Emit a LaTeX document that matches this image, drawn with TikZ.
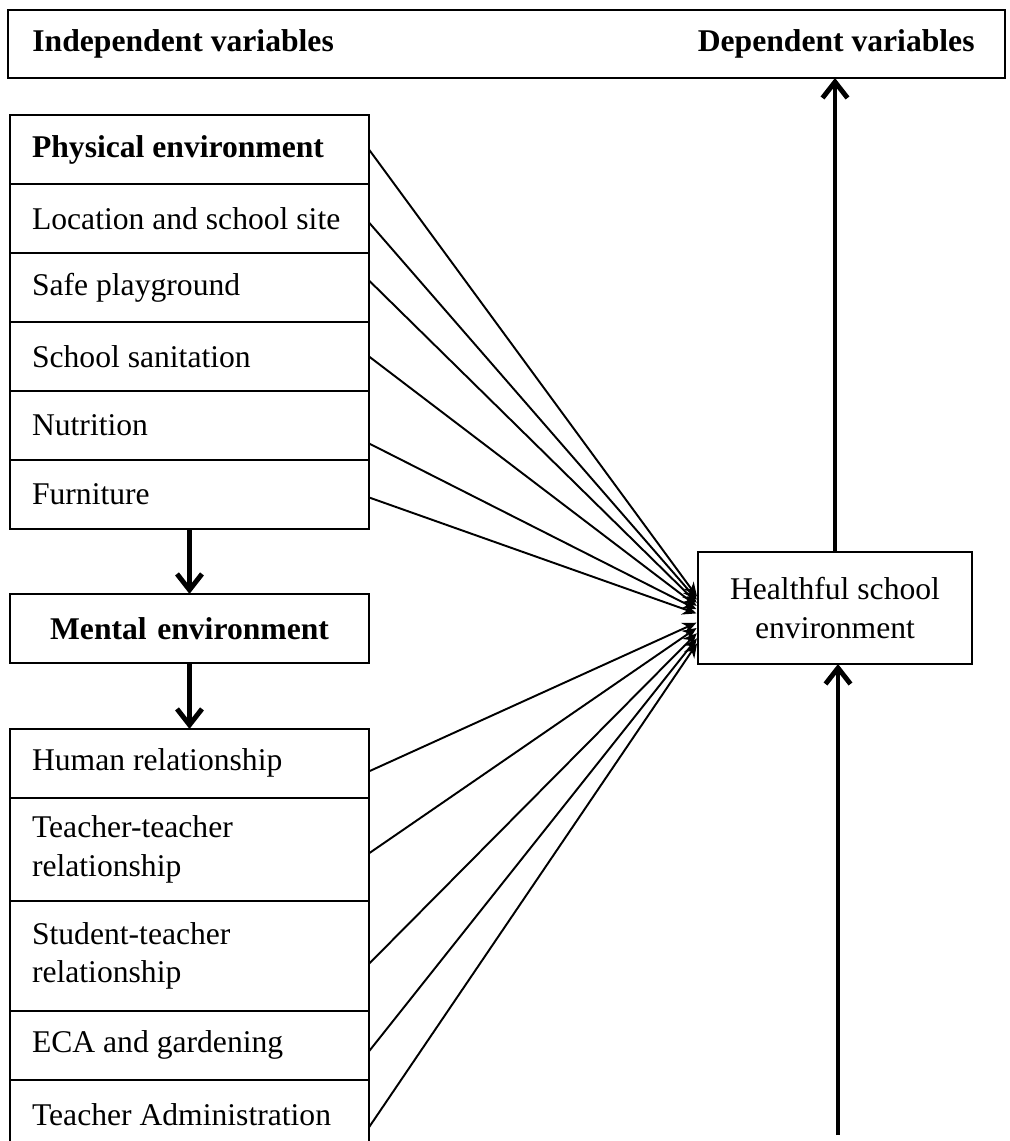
\documentclass[tikz,border=0pt]{standalone}
\usepackage{fontspec}
\setmainfont{Liberation Serif}
\usetikzlibrary{positioning,arrows.meta}

\begin{document}
\begin{tikzpicture}[x=0.02cm,y=-0.02cm,
    every node/.style={font=\fontsize{18}{22}\selectfont},
    box/.style={draw,line width=1.4pt,outer sep=0pt},
    item node/.style={box,anchor=north,minimum width=7.18cm,minimum height=1.38cm,
        text width=6.3cm,inner xsep=0.44cm,align=flush left},
    head node/.style={item node,font=\fontsize{18}{22}\selectfont\bfseries},
    title/.style={font=\fontsize{18}{22}\selectfont\bfseries,inner sep=0pt},
    link/.style={-{Stealth[length=8pt,width=7pt]},line width=1.1pt,shorten >=1pt},
    flow/.style={-{Straight Barb[length=0.32cm,width=0.5cm]},line width=2.8pt}]
\useasboundingbox (0,0) rectangle (1009,1141);

\node[box,minimum width=19.94cm,minimum height=1.36cm] (header) at (506.5,44) {};
\node[title,anchor=west] (indep) at ([xshift=0.48cm]header.west) {Independent variables};
\node[title,anchor=east] (dep) at ([xshift=-0.6cm]header.east) {Dependent variables};

\node[head node] (phys) at (189.5,115) {Physical environment};
\node[item node] (site) [below=0pt of phys] {Location and school site};
\node[item node] (play) [below=0pt of site] {Safe playground};
\node[item node] (sanit) [below=0pt of play] {School sanitation};
\node[item node] (food) [below=0pt of sanit] {Nutrition};
\node[item node] (furn) [below=0pt of food] {Furniture};
\node[head node,align=center] (mental) [below=1.3cm of furn] {Mental environment};
\node[item node] (human) [below=1.32cm of mental] {Human relationship};
\node[item node,minimum height=2.06cm] (tt) [below=0pt of human] {Teacher-teacher\\relationship};
\node[item node,minimum height=2.2cm] (st) [below=0pt of tt] {Student-teacher\\relationship};
\node[item node] (eca) [below=0pt of st] {ECA and gardening};
\node[item node] (admin) [below=0pt of eca] {Teacher Administration};

\node[box,minimum width=5.48cm,minimum height=2.24cm,align=center] (health) at (835,608)
    {Healthful school\\environment};
\coordinate (base) at (838,1135);

\draw[flow] (furn) -- (mental);
\draw[flow] (mental) -- (human);
\draw[flow] (health.north) -- (health.north |- header.south);
\draw[flow] (base) -- (base |- health.south);

\path[link]
(phys.east) edge ([yshift=0.2cm]health.west)
([yshift=-0.08cm]site.east) edge ([yshift=0.14cm]health.west)
([yshift=0.14cm]play.east) edge ([yshift=0.08cm]health.west)
(sanit.east) edge ([yshift=0.02cm]health.west)
([yshift=-0.36cm]food.east) edge ([yshift=-0.04cm]health.west)
([yshift=-0.06cm]furn.east) edge ([yshift=-0.12cm]health.west)
([yshift=-0.16cm]human.east) edge ([yshift=-0.28cm]health.west)
([yshift=-0.08cm]tt.east) edge ([yshift=-0.38cm]health.west)
([yshift=-0.16cm]st.east) edge ([yshift=-0.48cm]health.west)
([yshift=-0.12cm]eca.east) edge ([yshift=-0.58cm]health.west)
([yshift=-0.26cm]admin.east) edge ([yshift=-0.68cm]health.west)
;

\end{tikzpicture}
\end{document}
